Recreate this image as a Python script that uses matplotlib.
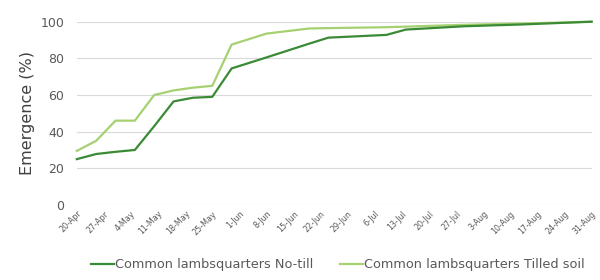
import matplotlib
matplotlib.use("Agg")
import matplotlib.pyplot as plt
import datetime as dt

dates = ["2019-04-20", "2019-04-25", "2019-04-30", "2019-05-05", "2019-05-10",
         "2019-05-15", "2019-05-20", "2019-05-25", "2019-05-30", "2019-06-08",
         "2019-06-19", "2019-06-24", "2019-07-09", "2019-07-14", "2019-07-29",
         "2019-08-13", "2019-08-31"]
no_till = [25, 27.8, 29, 30, 43, 56.5, 58.5, 59, 74.5, 80.5, 88, 91.3, 92.8, 95.7, 97.5, 98.5, 100]
tilled = [29.5, 35, 46, 46, 60, 62.5, 64, 65, 87.5, 93.5, 96.3, 96.5, 97, 97.3, 98.3, 99, 100]
series_names = ["Common lambsquarters No-till", "Common lambsquarters Tilled soil"]
y_ticks = [0, 20, 40, 60, 80, 100]
tick_start = "2019-04-20"
tick_end = "2019-08-31"

x = [dt.datetime.strptime(d, "%Y-%m-%d") for d in dates]
t0 = dt.datetime.strptime(tick_start, "%Y-%m-%d")
t1 = dt.datetime.strptime(tick_end, "%Y-%m-%d")
ticks = []
t = t0
while t <= t1:
    ticks.append(t)
    t += dt.timedelta(days=7)

fig = plt.figure(figsize=(6, 2.8), dpi=100)
ax = fig.add_axes([0.128, 0.268, 0.858, 0.6545])
ax.plot(x, no_till, color="#3a8a36", lw=1.6, label=series_names[0], clip_on=False, zorder=3)
ax.plot(x, tilled, color="#a6d170", lw=1.6, label=series_names[1], clip_on=False, zorder=2)

ax.set_xlim(t0, t1)
ax.set_ylim(0, 100)
ax.set_yticks(y_ticks)
ax.set_xticks(ticks)
ax.set_xticklabels([f"{d.day}-{d.strftime('%b')}" for d in ticks], rotation=45,
                   ha="right", rotation_mode="anchor", fontsize=5.8, color="#595959")
ax.tick_params(axis="y", labelsize=9, labelcolor="#595959", length=0, pad=9)
ax.tick_params(axis="x", length=0, pad=3)
ax.grid(axis="y", color="#d9d9d9", lw=0.8)
ax.set_axisbelow(True)
for s in ax.spines.values():
    s.set_visible(False)
ax.set_ylabel("Emergence (%)", fontsize=11.5, color="#404040", labelpad=4)

fig.legend(loc="center", bbox_to_anchor=(0.563, 0.054), ncol=2, frameon=False,
           fontsize=9.3, handlelength=1.8, handletextpad=0.1, columnspacing=2.0,
           labelcolor="#595959")
fig.savefig("out.png", dpi=100)
